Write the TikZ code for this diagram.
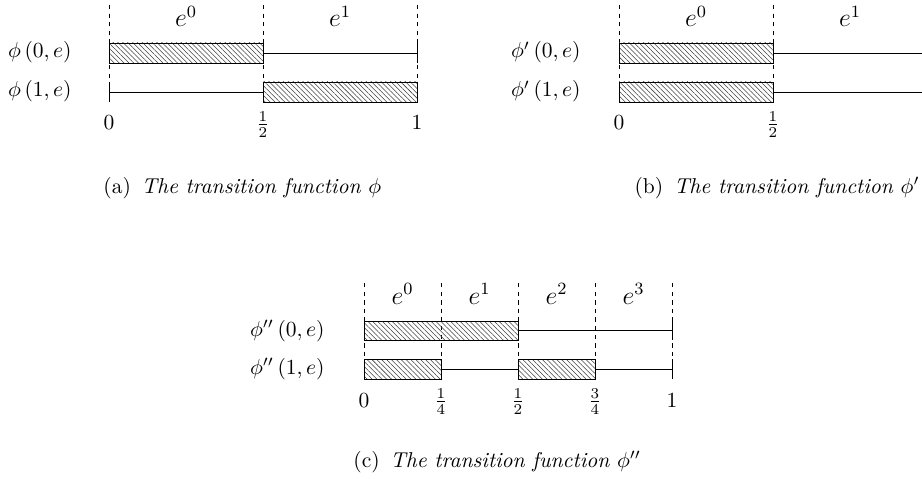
\documentclass[tikz,border=0pt]{standalone}
\usetikzlibrary{patterns.meta}
\begin{document}
\begin{tikzpicture}[x=0.4651pt,y=-0.4651pt,
  bar/.style={draw=black, line width=0.45pt, pattern={Lines[angle=-45,distance=1.6pt,line width=0.25pt]}, pattern color=black!75},
  seg/.style={line width=0.45pt},
  guide/.style={line width=0.4pt, dash pattern=on 2pt off 2pt},
  lbl/.style={anchor=base, inner sep=0pt},
  elbl/.style={anchor=base, inner sep=0pt, font=\large},
  rowlbl/.style={anchor=base east, inner sep=0pt},
  capw/.style={anchor=base west, inner sep=0pt},
  cape/.style={anchor=base east, inner sep=0pt}]
\useasboundingbox (0,0) rectangle (922,479);

% ---------------- (a) ----------------
\foreach \x in {109,263,417} \draw[guide] (\x,5) -- (\x,82);
\node[rowlbl] (a0) at (72,58) {$\phi\left(0,e\right)$};
\node[rowlbl] (a1) at (72,97) {$\phi\left(1,e\right)$};
\node[elbl] (ae0) at (186,27) {$e^0$};
\node[elbl] (ae1) at (340,27) {$e^1$};
\draw[bar] (109,43) rectangle (263,63);
\draw[seg] (263,53) -- (417,53) (417,43) -- (417,63);
\draw[seg] (109,82) -- (109,102) (109,92) -- (263,92);
\draw[bar] (263,82) rectangle (417,102);
\node[lbl] (at0) at (109,130) {$0$};
\node[lbl] (at1) at (263,130) {$\frac{1}{2}$};
\node[lbl] (at2) at (417,130) {$1$};
\node[capw] (capa) at (103,193) {(a)\enspace\textit{The transition function $\phi$}};

% ---------------- (b) ----------------
\foreach \x in {619,773} \draw[guide] (\x,5) -- (\x,82);
\node[rowlbl] (b0) at (581,58) {$\phi'\left(0,e\right)$};
\node[rowlbl] (b1) at (581,97) {$\phi'\left(1,e\right)$};
\node[elbl] (be0) at (696,27) {$e^0$};
\node[elbl] (be1) at (850,27) {$e^1$};
\draw[bar] (619,43) rectangle (773,63);
\draw[seg] (773,53) -- (927,53);
\draw[bar] (619,82) rectangle (773,102);
\draw[seg] (773,92) -- (927,92);
\node[lbl] (bt0) at (619,130) {$0$};
\node[lbl] (bt1) at (773,130) {$\frac{1}{2}$};
\node[cape] (capb) at (920,193) {(b)\enspace\textit{The transition function $\phi'$}};

% ---------------- (c) ----------------
\foreach \x in {364,441,518,595,672} \draw[guide] (\x,283) -- (\x,359);
\node[rowlbl] (c0) at (325,336) {$\phi''\left(0,e\right)$};
\node[rowlbl] (c1) at (325,374) {$\phi''\left(1,e\right)$};
\node[elbl] (ce0) at (402.5,304) {$e^0$};
\node[elbl] (ce1) at (479.5,304) {$e^1$};
\node[elbl] (ce2) at (556.5,304) {$e^2$};
\node[elbl] (ce3) at (633.5,304) {$e^3$};
\draw[bar] (364,321) rectangle (518,340);
\draw[seg] (518,330.5) -- (672,330.5) (672,321) -- (672,340);
\draw[bar] (364,359) rectangle (441,379);
\draw[seg] (441,369) -- (518,369);
\draw[bar] (518,359) rectangle (595,379);
\draw[seg] (595,369) -- (672,369) (672,359) -- (672,379);
\node[lbl] (ct0) at (364,407) {$0$};
\node[lbl] (ct1) at (441,407) {$\frac{1}{4}$};
\node[lbl] (ct2) at (518,407) {$\frac{1}{2}$};
\node[lbl] (ct3) at (595,407) {$\frac{3}{4}$};
\node[lbl] (ct4) at (672,407) {$1$};
\node[capw] (capc) at (353,467) {(c)\enspace\textit{The transition function $\phi''$}};
\end{tikzpicture}
\end{document}
